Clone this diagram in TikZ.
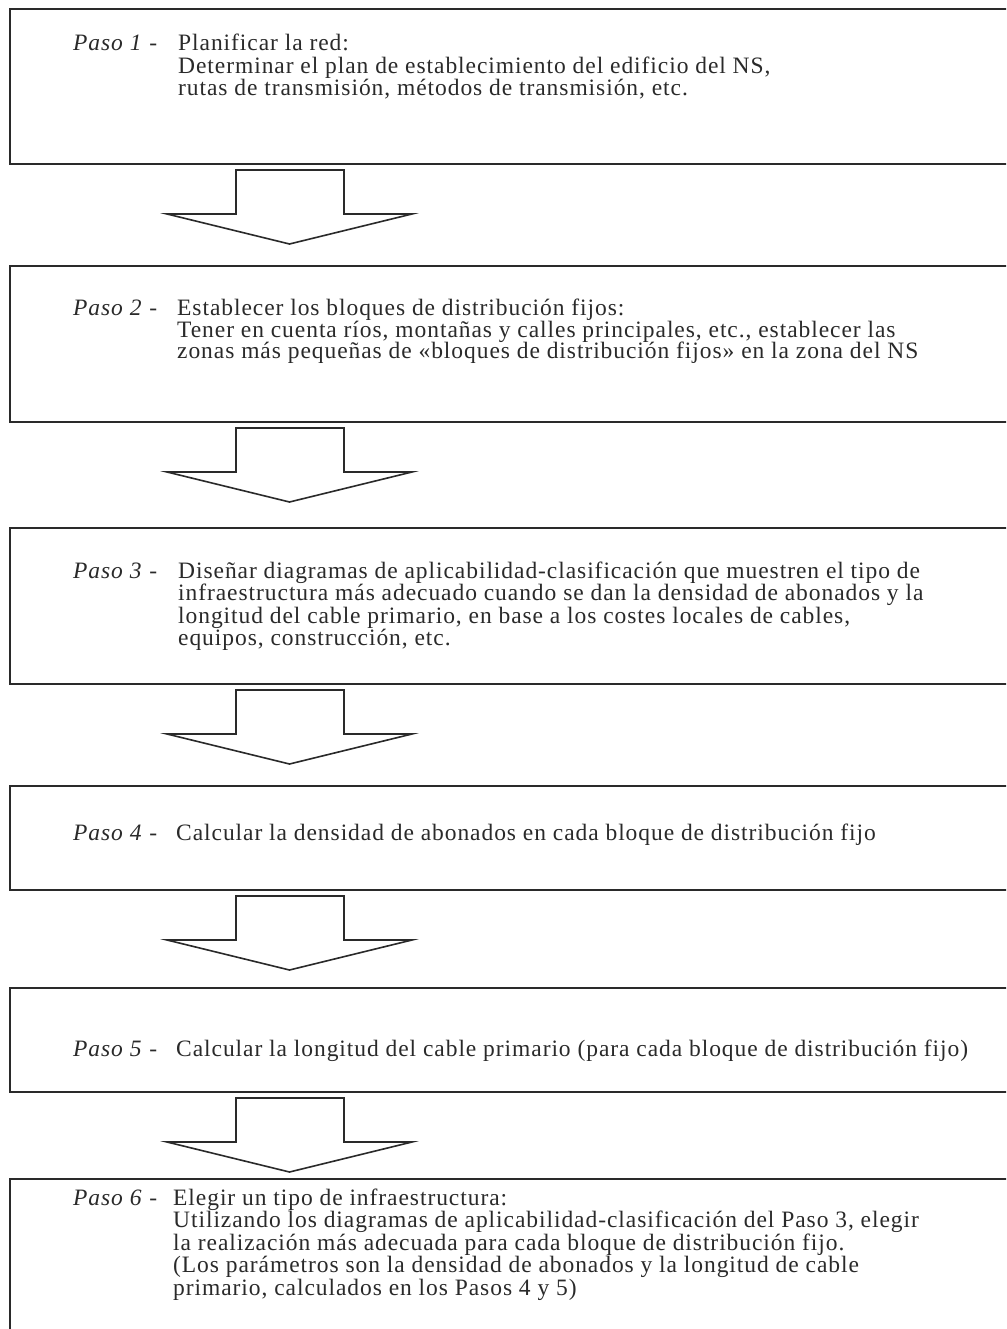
\documentclass[tikz,border=0pt]{standalone}
\usepackage{fontspec}
\setmainfont[LetterSpace=4]{Liberation Serif}
\usetikzlibrary{calc}
\definecolor{ink}{HTML}{2A2A2A}
\tikzset{
  stepbox/.style={draw=ink, line width=2pt, rectangle, inner sep=0pt,
    minimum width=1015pt, anchor=north west},
  blockarr/.style={draw=ink, line width=1.6pt, line join=miter, fill=white},
  pasolbl/.style={anchor=base west, inner sep=0pt, text=ink,
    font=\fontsize{23.5}{22.5}\selectfont},
  steptxt/.style={anchor=base west, inner sep=0pt, text=ink,
    font=\fontsize{23.5}{22.5}\selectfont},
}
\newcommand\blockarrow[1]{%
  \draw[blockarr] ($(#1.south west)+(227,-5)$) -- ++(0,-44) -- ++(-69,0)
    -- ++(122.5,-30) -- ++(122.5,30) -- ++(-68,0) -- ++(0,44) -- cycle;}
% lines separated by \cr, fixed baseline distance
\newcommand\lines[2][22.5pt]{\vtop{\baselineskip=#1\lineskiplimit=-\maxdimen
  \lineskip=0pt\halign{##\hfil\cr#2\crcr}}}
\begin{document}
\begin{tikzpicture}[x=1pt,y=1pt]
\useasboundingbox (0,0) rectangle (1006,-1329);
\clip (0,0) rectangle (1006,-1329);
\fill[white] (0,0) rectangle (1006,-1329);

% boxes
\node[stepbox, minimum height=155pt] (b1) at (9,-8) {};
\node[stepbox, minimum height=156pt] (b2) at (9,-265) {};
\node[stepbox, minimum height=156pt] (b3) at (9,-527) {};
\node[stepbox, minimum height=104pt] (b4) at (9,-785) {};
\node[stepbox, minimum height=104pt] (b5) at (9,-987) {};
\node[stepbox, minimum height=220pt] (b6) at (9,-1178) {};

% labels and texts
\node[pasolbl] (p1) at (73,-51) {\textit{Paso 1} -};
\node[steptxt] (t1) at (178,-51) {\lines{Planificar la red:\cr
  Determinar el plan de establecimiento del edificio del NS,\cr
  rutas de transmisión, métodos de transmisión, etc.}};

\node[pasolbl] (p2) at (73,-316) {\textit{Paso 2} -};
\node[steptxt] (t2) at (177,-316) {\lines[21.5pt]{Establecer los bloques de distribución fijos:\cr
  Tener en cuenta ríos, montañas y calles principales, etc., establecer las\cr
  zonas más pequeñas de «bloques de distribución fijos» en la zona del NS}};

\node[pasolbl] (p3) at (73,-578) {\textit{Paso 3} -};
\node[steptxt] (t3) at (178,-578) {\lines{Diseñar diagramas de aplicabilidad-clasificación que muestren el tipo de\cr
  infraestructura más adecuado cuando se dan la densidad de abonados y la\cr
  longitud del cable primario, en base a los costes locales de cables,\cr
  equipos, construcción, etc.}};

\node[pasolbl] (p4) at (73,-840) {\textit{Paso 4} -};
\node[steptxt] (t4) at (176,-840) {Calcular la densidad de abonados en cada bloque de distribución fijo};

\node[pasolbl] (p5) at (73,-1056) {\textit{Paso 5} -};
\node[steptxt] (t5) at (176,-1056) {Calcular la longitud del cable primario (para cada bloque de distribución fijo)};

\node[pasolbl] (p6) at (73,-1205) {\textit{Paso 6} -};
\node[steptxt] (t6) at (173,-1205) {\lines{Elegir un tipo de infraestructura:\cr
  Utilizando los diagramas de aplicabilidad-clasificación del Paso 3, elegir\cr
  la realización más adecuada para cada bloque de distribución fijo.\cr
  (Los parámetros son la densidad de abonados y la longitud de cable\cr
  primario, calculados en los Pasos 4 y 5)}};

% block arrows between steps
\blockarrow{b1}
\blockarrow{b2}
\blockarrow{b3}
\blockarrow{b4}
\blockarrow{b5}
\end{tikzpicture}
\end{document}
